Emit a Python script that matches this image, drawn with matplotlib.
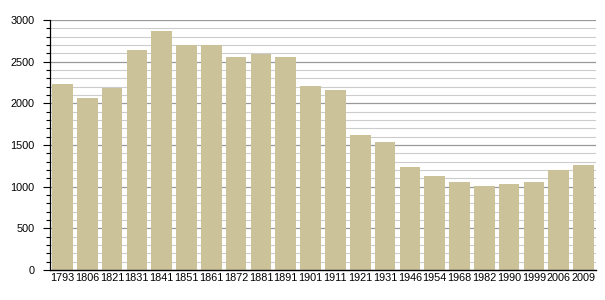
import matplotlib
matplotlib.use("Agg")
import matplotlib.pyplot as plt
from matplotlib.ticker import MultipleLocator

# Population by census year
years = ["1793", "1806", "1821", "1831", "1841", "1851", "1861", "1872", "1881", "1891",
         "1901", "1911", "1921", "1931", "1946", "1954", "1968", "1982", "1990", "1999",
         "2006", "2009"]
population = [2236, 2068, 2190, 2642, 2868, 2702, 2702, 2558, 2594, 2558,
              2206, 2160, 1622, 1538, 1238, 1130, 1058, 1010, 1034, 1058,
              1198, 1262]

plt.rcParams['font.family'] = ['Liberation Sans', 'DejaVu Sans']

fig = plt.figure(figsize=(6.05, 3.0), dpi=100)
ax = fig.add_axes([50 / 605, 30 / 300, 546 / 605, 250 / 300])

x = range(len(years))
ax.bar(x, population, width=0.83, color='#cbc299', zorder=3)

ax.set_xlim(-0.5, len(years) - 0.5)
ax.set_ylim(0, 3000)
ax.set_xticks(list(x))
ax.set_xticklabels(years, fontsize=7.8)
ax.tick_params(axis='x', length=0, pad=2)

ax.yaxis.set_major_locator(MultipleLocator(500))
ax.yaxis.set_minor_locator(MultipleLocator(100))
ax.tick_params(axis='y', which='major', length=5, width=0.8, labelsize=7.8, pad=6)
ax.tick_params(axis='y', which='minor', length=3, width=0.8)

# grid lines
ax.grid(axis='y', which='major', color='#999999', linewidth=0.9, zorder=0)
ax.grid(axis='y', which='minor', color='#cccccc', linewidth=0.8, zorder=0)

for s in ['top', 'right']:
    ax.spines[s].set_visible(False)
ax.spines['left'].set_linewidth(0.9)
ax.spines['bottom'].set_linewidth(1.0)
ax.spines['left'].set_zorder(4)
ax.spines['bottom'].set_zorder(4)

fig.savefig("out.png", dpi=100)
